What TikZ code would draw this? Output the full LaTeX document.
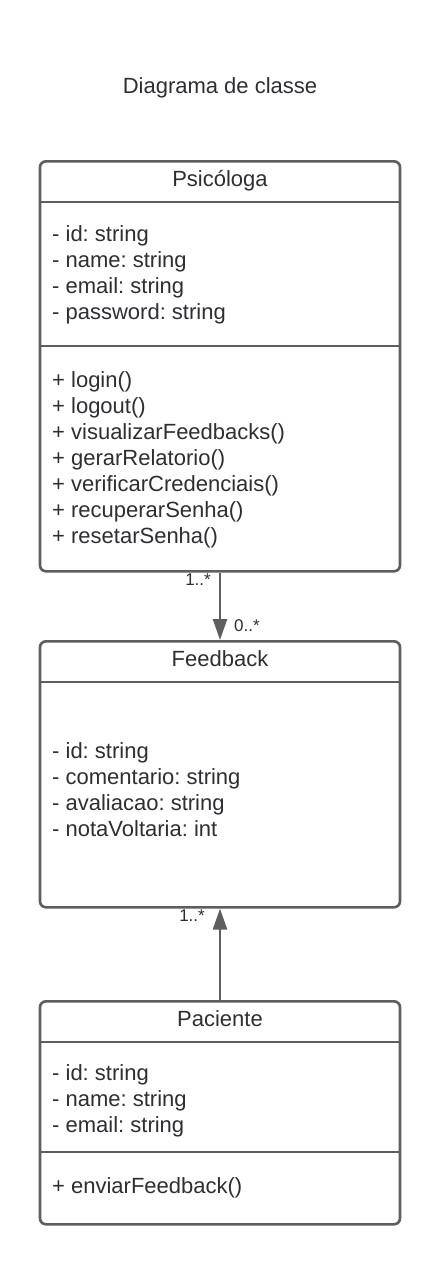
\documentclass[tikz,border=0pt]{standalone}
\usepackage{fontspec}
\setmainfont{Liberation Sans}
\usetikzlibrary{arrows.meta}
\definecolor{linec}{HTML}{5E5E5E}
\definecolor{txtc}{HTML}{2E2E33}
\frenchspacing
\begin{document}
\begin{tikzpicture}[x=1pt,y=-1pt,
  classbox/.style={draw=linec,line width=2.6pt,rounded corners=6pt,fill=white,minimum width=360pt,anchor=north,inner sep=0pt},
  divider/.style={draw=linec,line width=2.6pt},
  hdr/.style={text=txtc,font=\fontsize{22}{26}\selectfont\frenchspacing,inner sep=0pt,anchor=base},
  body/.style={text=txtc,font=\fontsize{22}{26}\selectfont\frenchspacing,anchor=base west,inner sep=0pt},
  mult/.style={text=txtc,font=\fontsize{17}{20}\selectfont,inner sep=0pt},
  assoc/.style={draw=linec,line width=2.6pt,-{Triangle[length=21pt,width=14pt]}}]
\useasboundingbox (0,0) rectangle (440,1264);
\node[text=txtc,font=\fontsize{22}{26}\selectfont,anchor=base] (title) at (220,93) {Diagrama de classe};
% Psicologa
\node[classbox,minimum height=410pt] (psi) at (220,160) {};
\draw[divider] (psi.west |- 0,202) -- (psi.east |- 0,202);
\draw[divider] (psi.west |- 0,346) -- (psi.east |- 0,346);
\node[hdr] (psih) at (220,186) {Psicóloga};
\foreach \t [count=\i] in {- id: string,- name: string,- email: string,- password: string}
  \node[body] (psia\i) at (52,{241+26*(\i-1)}) {\t};
\foreach \t [count=\i] in {+ login(),+ logout(),+ visualizarFeedbacks(),+ gerarRelatorio(),+ verificarCredenciais(),+ recuperarSenha(),+ resetarSenha()}
  \node[body] (psim\i) at (52,{387+26*(\i-1)}) {\t};
% Feedback
\node[classbox,minimum height=266pt] (fb) at (220,640) {};
\draw[divider] (fb.west |- 0,682) -- (fb.east |- 0,682);
\node[hdr] (fbh) at (220,666) {Feedback};
\foreach \t [count=\i] in {- id: string,- comentario: string,- avaliacao: string,- notaVoltaria: int}
  \node[body] (fba\i) at (52,{758+26*(\i-1)}) {\t};
% Paciente
\node[classbox,minimum height=223pt] (pac) at (220,1000) {};
\draw[divider] (pac.west |- 0,1042) -- (pac.east |- 0,1042);
\draw[divider] (pac.west |- 0,1152) -- (pac.east |- 0,1152);
\node[hdr] (pach) at (220,1026) {Paciente};
\foreach \t [count=\i] in {- id: string,- name: string,- email: string}
  \node[body] (paca\i) at (52,{1080+26*(\i-1)}) {\t};
\node[body] (pacm1) at (52,1193) {+ enviarFeedback()};
% connectors
\draw[assoc] (psi.south) -- (fb.north);
\draw[assoc] (pac.north) -- (fb.south);
\node[mult,anchor=base east] (m1) at (211,585) {1..*};
\node[mult,anchor=base west] (m2) at (234,631) {0..*};
\node[mult,anchor=base east] (m3) at (205,921) {1..*};
\end{tikzpicture}
\end{document}
